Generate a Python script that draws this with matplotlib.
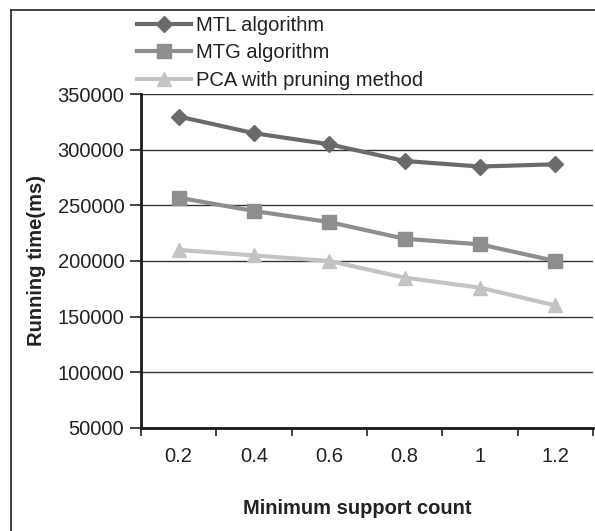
import numpy as np
import matplotlib
matplotlib.use("Agg")
import matplotlib.pyplot as plt
from matplotlib.lines import Line2D

plt.rcParams['font.family'] = ['Liberation Sans', 'DejaVu Sans']

support = ['0.2', '0.4', '0.6', '0.8', '1', '1.2']
mtl = [330000, 315000, 305000, 290000, 285000, 287000]
mtg = [257000, 245000, 235000, 220000, 215000, 200000]
pca = [210000, 205000, 200000, 185000, 176000, 160000]
yticks = [50000, 100000, 150000, 200000, 250000, 300000, 350000]

fig = plt.figure(figsize=(5.95, 5.31), dpi=100)
ax = fig.add_axes([141 / 595, 1 - 427.7 / 531, (593 - 141) / 595, (427.7 - 94.3) / 531])

x = np.arange(len(support))
ax.plot(x, mtl, color='#6a6a6a', lw=3, marker='D', ms=8, label='MTL algorithm')
ax.plot(x, mtg, color='#8e8e8e', lw=3, marker='s', ms=10, label='MTG algorithm')
ax.plot(x, pca, color='#c3c3c3', lw=3, marker='^', ms=10, label='PCA with pruning method')

ax.set_xlim(-0.5, len(support) - 0.5)
ax.set_ylim(50000, 350000)
ax.set_yticks(yticks)
ax.set_yticklabels([str(v) for v in yticks], fontsize=14.5)
ax.set_xticks(x)
ax.set_xticklabels(support, fontsize=14.5)
ax.set_xticks(np.arange(-0.5, len(support)), minor=True)
ax.tick_params(axis='x', which='major', length=0, pad=14)
ax.tick_params(axis='x', which='minor', length=6, width=1.2, color='#222222')
ax.tick_params(axis='y', length=8, width=1.2, color='#222222', pad=4)
for t in ax.get_xticklabels() + ax.get_yticklabels():
    t.set_color('#222222')

ax.grid(axis='y', color='#333333', lw=1)
ax.set_axisbelow(True)
for s in ['top', 'right']:
    ax.spines[s].set_visible(False)
for s in ['left', 'bottom']:
    ax.spines[s].set_linewidth(2)
    ax.spines[s].set_color('#1a1a1a')

fig.text(37 / 595, 1 - 261 / 531, 'Running time(ms)', rotation=90, ha='center', va='center',
         fontsize=14.5, fontweight='bold', color='#222222')
fig.text(357 / 595, 1 - 509 / 531, 'Minimum support count', ha='center', va='center',
         fontsize=14.5, fontweight='bold', color='#222222')

fig.legend(loc='upper left', bbox_to_anchor=(137 / 595, 1 - 16 / 531), frameon=False,
           fontsize=14.5, handlelength=2.7, handletextpad=0.25, labelspacing=0.42,
           borderpad=0, borderaxespad=0, labelcolor='#222222')

# outer frame (left and top only visible)
fig.add_artist(Line2D([10.5 / 595, 10.5 / 595], [0, 1 - 10 / 531], color='#333333', lw=1.3))
fig.add_artist(Line2D([10.5 / 595, 1], [1 - 10 / 531, 1 - 10 / 531], color='#333333', lw=1.3))

fig.savefig('out.png', dpi=100)
